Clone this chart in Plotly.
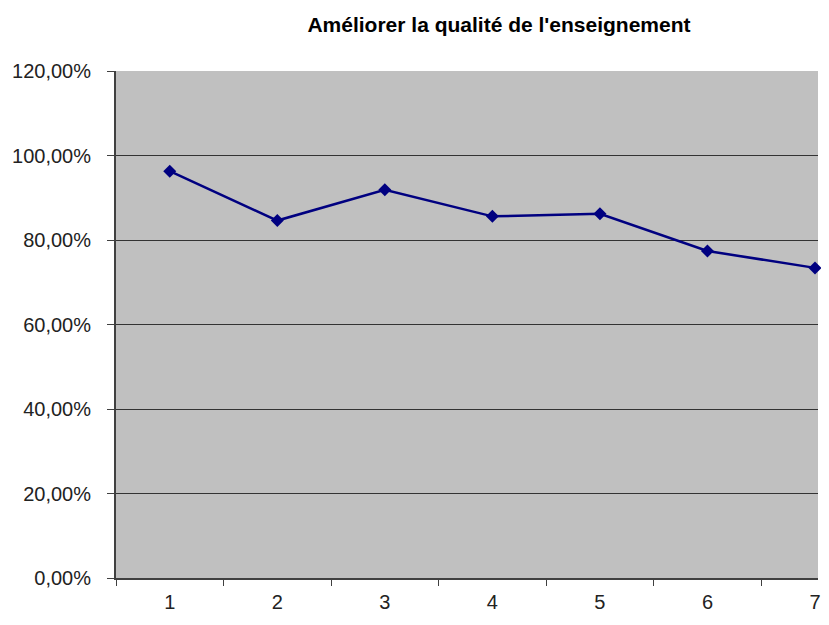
import plotly.graph_objects as go

categories = ["1", "2", "3", "4", "5", "6", "7"]
values = [0.963, 0.846, 0.919, 0.856, 0.862, 0.774, 0.734]

TITLE = "Améliorer la qualité de l'enseignement"
FONT = "Liberation Sans, Arial, sans-serif"

# the page adds 16px around the figure and ~4px below it, so it is drawn smaller
W, H = 813, 605

fig = go.Figure()
fig.add_trace(go.Scatter(
    x=categories, y=values,
    mode="lines+markers",
    line=dict(color="#000080", width=2.5),
    marker=dict(symbol="diamond", size=10, color="#000080"),
    cliponaxis=False,
    showlegend=False,
))

fig.update_layout(
    width=W, height=H,
    margin=dict(l=108, r=0, t=63, b=31),
    paper_bgcolor="white",
    plot_bgcolor="#C0C0C0",
    separators=", ",
    font=dict(family=FONT, size=20, color="#222222"),
    title=dict(
        text="<b>" + TITLE + "</b>",
        x=491 / W, xref="container", xanchor="center",
        y=1 - 17 / H, yref="container", yanchor="middle",
        font=dict(family=FONT, size=21, color="#000000"),
    ),
)

fig.update_xaxes(
    type="category",
    range=[-0.5, 6.028],
    tickson="boundaries",
    ticks="outside", ticklen=6, tickcolor="#404040", tickwidth=1,
    showline=True, linecolor="#404040", linewidth=2,
    showgrid=False, zeroline=False,
    ticklabelstandoff=5,
)

fig.update_yaxes(
    range=[0, 1.2],
    tickvals=[0, 0.2, 0.4, 0.6, 0.8, 1.0, 1.2],
    tickformat=".2%",
    ticks="outside", ticklen=7, tickcolor="#404040", tickwidth=1,
    showline=True, linecolor="#404040", linewidth=2,
    showgrid=True, gridcolor="#333333", gridwidth=1,
    zeroline=False,
    ticklabelstandoff=12,
)

fig.write_html("out.html")
